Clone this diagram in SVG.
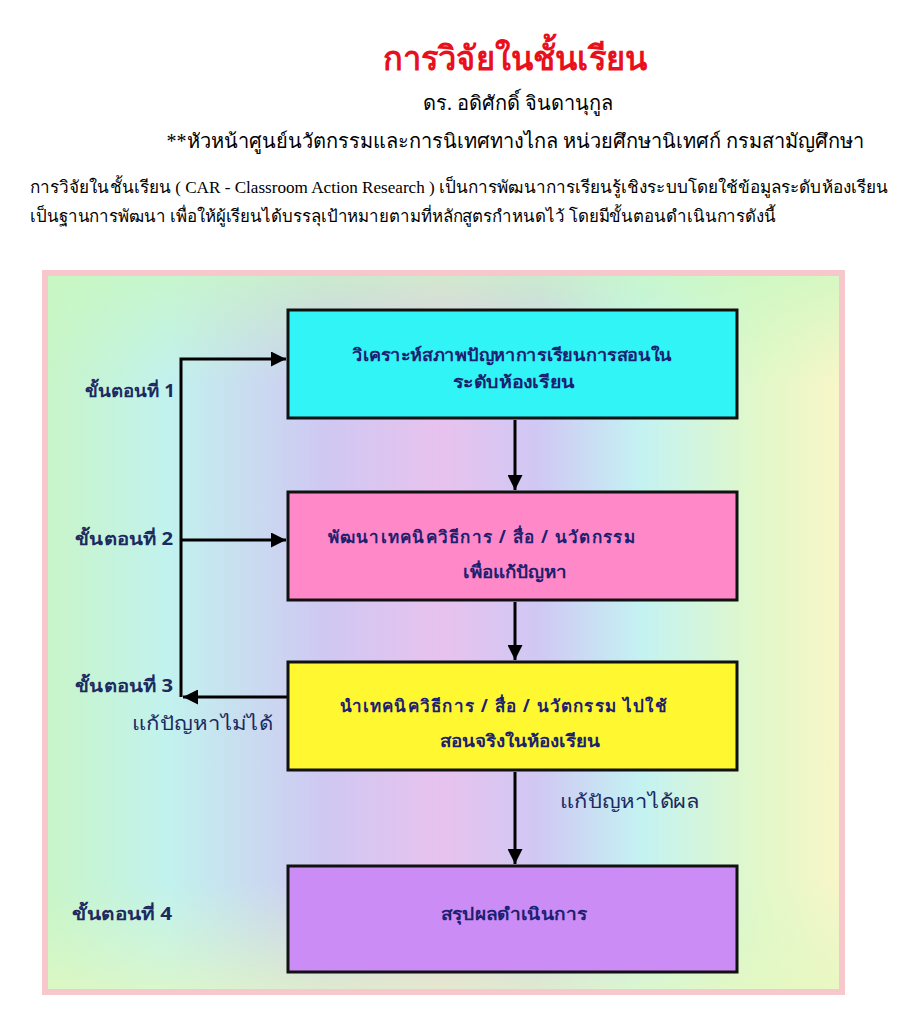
<svg xmlns="http://www.w3.org/2000/svg" width="909" height="1024" viewBox="0 0 909 1024">
<defs>
<linearGradient id="bgH" x1="0" y1="0" x2="1" y2="0">
<stop offset="0" stop-color="#c8f5c8"/>
<stop offset="0.15" stop-color="#c2f2ee"/>
<stop offset="0.35" stop-color="#cfc8f2"/>
<stop offset="0.5" stop-color="#e8c2ee"/>
<stop offset="0.62" stop-color="#d0c8f4"/>
<stop offset="0.75" stop-color="#c4f2f2"/>
<stop offset="0.9" stop-color="#e2f8c8"/>
<stop offset="1" stop-color="#f8f6c8"/>
</linearGradient>
<linearGradient id="bgV" x1="0" y1="0" x2="0" y2="1">
<stop offset="0" stop-color="#c8f8c0" stop-opacity="0.7"/>
<stop offset="0.15" stop-color="#c8f8c0" stop-opacity="0"/>
<stop offset="0.85" stop-color="#d8f8c8" stop-opacity="0"/>
<stop offset="1" stop-color="#e4f8c0" stop-opacity="0.7"/>
</linearGradient>
<marker id="ah" viewBox="0 0 10 10" refX="10" refY="5" markerWidth="5" markerHeight="5" orient="auto" markerUnits="strokeWidth">
<path d="M0,0 L10,5 L0,10 z" fill="#000"/>
</marker>
<style>
.hdr{font-family:"Liberation Serif","Noto Sans",serif;fill:#000}
.lbl{font-family:"Noto Sans","DejaVu Sans",sans-serif;font-weight:bold;font-size:17px;fill:#1c2a60}
.lb2{font-family:"Noto Sans","DejaVu Sans",sans-serif;font-size:19px;fill:#1c2a60}
.bx{stroke:#111;stroke-width:3}
.bt{font-family:"Noto Sans","DejaVu Sans",sans-serif;font-weight:bold;font-size:17px;fill:#1c2070;text-anchor:middle}
.ln{stroke:#000;stroke-width:3;fill:none}
</style>
</defs>
<rect width="909" height="1024" fill="#fff"/>
<text x="515" y="70" text-anchor="middle" font-family="Liberation Serif, Noto Sans, serif" font-weight="bold" font-size="34" fill="#e8101c" textLength="265" lengthAdjust="spacingAndGlyphs">การวิจัยในชั้นเรียน</text>
<text class="hdr" x="518" y="110" text-anchor="middle" font-size="20">ดร. อดิศักดิ์ จินดานุกูล</text>
<text class="hdr" x="515" y="148" text-anchor="middle" font-size="20">**หัวหน้าศูนย์นวัตกรรมและการนิเทศทางไกล หน่วยศึกษานิเทศก์ กรมสามัญศึกษา</text>
<text class="hdr" x="30" y="193" font-size="17" textLength="858" lengthAdjust="spacingAndGlyphs">การวิจัยในชั้นเรียน ( CAR - Classroom Action Research ) เป็นการพัฒนาการเรียนรู้เชิงระบบโดยใช้ข้อมูลระดับห้องเรียน</text>
<text class="hdr" x="30" y="222" font-size="17" textLength="746" lengthAdjust="spacingAndGlyphs">เป็นฐานการพัฒนา เพื่อให้ผู้เรียนได้บรรลุเป้าหมายตามที่หลักสูตรกำหนดไว้ โดยมีขั้นตอนดำเนินการดังนี้</text>
<g id="background">
<rect x="42" y="270" width="803" height="725" fill="#f6c8cc"/>
<rect x="48" y="276" width="791" height="713" fill="url(#bgH)"/>
<rect x="48" y="276" width="791" height="713" fill="url(#bgV)"/>
</g>
<g id="connectors">
<line class="ln" x1="515" y1="420" x2="515" y2="490" marker-end="url(#ah)"/>
<line class="ln" x1="515" y1="602" x2="515" y2="660" marker-end="url(#ah)"/>
<line class="ln" x1="515" y1="772" x2="515" y2="864" marker-end="url(#ah)"/>
<polyline class="ln" points="181,697 181,359 286,359" marker-end="url(#ah)"/>
<line class="ln" x1="181" y1="540" x2="286" y2="540" marker-end="url(#ah)"/>
<line class="ln" x1="288" y1="697" x2="183" y2="697" marker-end="url(#ah)"/>
<text class="lb2" x="560" y="808" textLength="140" lengthAdjust="spacingAndGlyphs">แก้ปัญหาได้ผล</text>
<text class="lb2" x="132" y="730" textLength="141" lengthAdjust="spacingAndGlyphs">แก้ปัญหาไม่ได้</text>
</g>
<g id="step1"><text class="lbl" x="85" y="397" textLength="90" lengthAdjust="spacingAndGlyphs">ขั้นตอนที่ 1</text></g>
<g id="step2"><text class="lbl" x="75" y="545" textLength="98" lengthAdjust="spacingAndGlyphs">ขั้นตอนที่ 2</text></g>
<g id="step3"><text class="lbl" x="75" y="692" textLength="98" lengthAdjust="spacingAndGlyphs">ขั้นตอนที่ 3</text></g>
<g id="step4"><text class="lbl" x="72" y="920" textLength="100" lengthAdjust="spacingAndGlyphs">ขั้นตอนที่ 4</text></g>
<g id="box1">
<rect class="bx" x="288" y="310" width="449" height="108" fill="#30f4f6"/>
<text class="bt" x="512" y="361" textLength="320" lengthAdjust="spacingAndGlyphs">วิเคราะห์สภาพปัญหาการเรียนการสอนใน</text>
<text class="bt" x="514" y="388" textLength="122" lengthAdjust="spacingAndGlyphs">ระดับห้องเรียน</text>
</g>
<g id="box2">
<rect class="bx" x="288" y="492" width="449" height="108" fill="#ff88c8"/>
<text class="bt" x="481" y="543" textLength="307" lengthAdjust="spacing">พัฒนาเทคนิควิธีการ / สื่อ / นวัตกรรม</text>
<text class="bt" x="515" y="578" textLength="104" lengthAdjust="spacingAndGlyphs">เพื่อแก้ปัญหา</text>
</g>
<g id="box3">
<rect class="bx" x="288" y="662" width="449" height="108" fill="#fff830"/>
<text class="bt" x="503" y="712" textLength="327" lengthAdjust="spacing">นำเทคนิควิธีการ / สื่อ / นวัตกรรม ไปใช้</text>
<text class="bt" x="520" y="747" textLength="160" lengthAdjust="spacingAndGlyphs">สอนจริงในห้องเรียน</text>
</g>
<g id="box4">
<rect class="bx" x="288" y="866" width="449" height="106" fill="#cc8cf6"/>
<text class="bt" x="514" y="920" textLength="146" lengthAdjust="spacingAndGlyphs">สรุปผลดำเนินการ</text>
</g>
</svg>
